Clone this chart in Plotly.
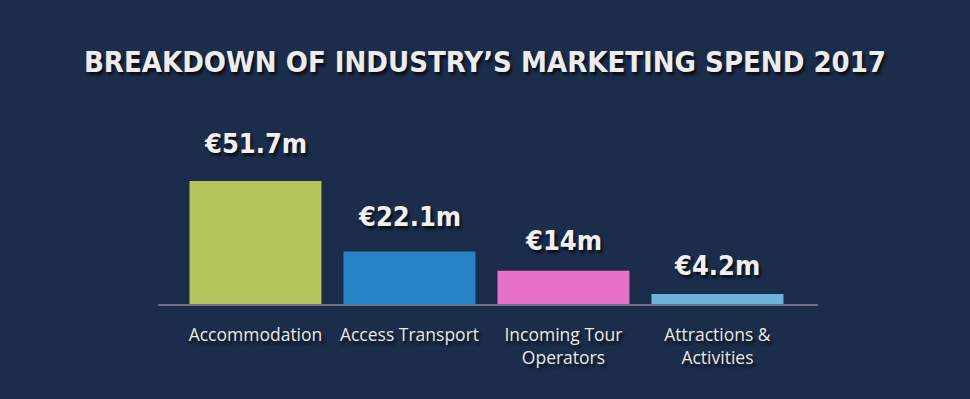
import plotly.graph_objects as go

categories = ["Accommodation", "Access Transport", "Incoming Tour<br>Operators", "Attractions &<br>Activities"]
values = [51.7, 22.1, 14.0, 4.2]
value_labels = ["€51.7m", "€22.1m", "€14m", "€4.2m"]
bar_colors = ["#b2c45a", "#2683c6", "#e871c8", "#6bb3d8"]
title_text = "BREAKDOWN OF INDUSTRY’S MARKETING SPEND 2017"

BG = "#1b2d4a"
COND = "DejaVu Sans Condensed, DejaVu Sans, sans-serif"
SHADOW = "2px 3px 3px rgba(0,0,0,0.7)"

xs = list(range(len(categories)))

fig = go.Figure()
fig.add_trace(go.Bar(
    x=xs, y=values,
    marker=dict(color=bar_colors, line=dict(width=0)),
    width=0.857,
    hoverinfo="skip",
))

label_shift = [20, 17, 13, 11]
for i, (v, lab) in enumerate(zip(values, value_labels)):
    fig.add_annotation(
        x=xs[i], y=v, text=f"<b>{lab}</b>", showarrow=False,
        xref="x", yref="y", yanchor="bottom", yshift=label_shift[i],
        font=dict(family=COND, size=27, color="#f0f0f0", shadow=SHADOW),
    )

fig.update_layout(
    width=970, height=399,
    paper_bgcolor=BG, plot_bgcolor=BG,
    margin=dict(l=158, r=152, t=100, b=95),
    showlegend=False,
    title=dict(
        text=f"<b>{title_text}</b>", x=0.5, xanchor="center",
        y=1 - 62 / 399, yanchor="middle",
        font=dict(family=COND, size=29, color="#ececec", shadow=SHADOW),
    ),
    xaxis=dict(
        range=[-0.633, 3.653], tickvals=xs, ticktext=categories,
        showgrid=False, zeroline=False, showline=True, linecolor="#6b7080", linewidth=2,
        ticks="", ticklabelstandoff=14,
        tickfont=dict(family="Open Sans, sans-serif", size=17.5, color="#e8e8e8", shadow=SHADOW),
        fixedrange=True,
    ),
    yaxis=dict(range=[0, 85.7], visible=False, showgrid=False, zeroline=False, fixedrange=True),
)

fig.write_html(
    "out.html",
    config={"displayModeBar": False},
    post_script=(
        "document.body.style.margin='0';document.body.style.background='%s';"
        "document.querySelectorAll('.gtitle, .annotation-text').forEach(function(e){e.style.fontStretch='condensed';});"
    ) % BG,
)
